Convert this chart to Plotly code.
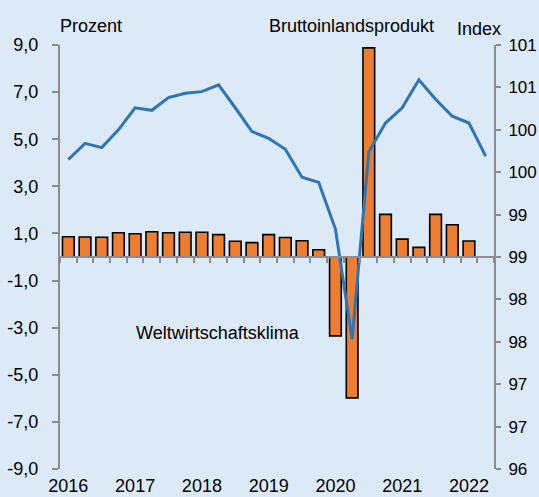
import plotly.graph_objects as go

# ---- data ----
quarters = [f"{y}Q{q}" for y in range(2016, 2023) for q in range(1, 5)][:26]
gdp = [0.86, 0.85, 0.84, 1.03, 0.99, 1.07, 1.03, 1.05, 1.05, 0.95, 0.67, 0.61,
       0.95, 0.83, 0.69, 0.31, -3.35, -5.98, 8.88, 1.81, 0.76, 0.41, 1.81, 1.37,
       0.68, None]
klima = [99.65, 99.84, 99.79, 100.00, 100.26, 100.23, 100.38, 100.43, 100.45,
         100.53, 100.26, 99.98, 99.90, 99.77, 99.44, 99.38, 98.83, 97.53, 99.74,
         100.08, 100.26, 100.59, 100.36, 100.16, 100.08, 99.69]
year_ticks = ["2016Q1", "2017Q1", "2018Q1", "2019Q1", "2020Q1", "2021Q1", "2022Q1"]
year_labels = ["2016", "2017", "2018", "2019", "2020", "2021", "2022"]
left_ticks = [-9, -7, -5, -3, -1, 1, 3, 5, 7, 9]
left_labels = [f"{v:.1f}".replace(".", ",") for v in left_ticks]
right_ticks = [96, 96.5, 97, 97.5, 98, 98.5, 99, 99.5, 100, 100.5, 101]
right_labels = ["96", "97", "97", "98", "98", "99", "99", "100", "100", "101", "101"]

BG = "#DCE9F7"
AX = "#8C8C8C"
FONT = dict(family="Liberation Sans, Arial, sans-serif", size=18, color="#000000")
RFONT = dict(family="Liberation Sans, Arial, sans-serif", size=17, color="#000000")

fig = go.Figure()
fig.add_trace(go.Bar(x=quarters, y=gdp, marker=dict(color="#ED7D31",
                     line=dict(color="#000000", width=1.6)), xaxis="x", yaxis="y"))
fig.add_trace(go.Scatter(x=quarters, y=klima, mode="lines",
                         line=dict(color="#2E75B6", width=3), xaxis="x", yaxis="y2"))
# helper trace so the zero-line category axis is drawn
fig.add_trace(go.Scatter(x=quarters, y=[None] * len(quarters), mode="lines",
                         xaxis="x2", yaxis="y", hoverinfo="skip"))

rng = [-0.5, len(quarters) - 0.5]
fig.update_layout(
    width=539, height=497,
    margin=dict(l=60, r=45, t=45, b=28),
    paper_bgcolor=BG, plot_bgcolor=BG,
    showlegend=False, bargap=0.3,
    font=FONT,
    xaxis=dict(type="category", categoryorder="array", categoryarray=quarters,
               range=rng, tickvals=year_ticks, ticktext=year_labels,
               showline=False, showgrid=False, zeroline=False, ticks="",
               ticklabelstandoff=4, tickfont=FONT, automargin=False),
    xaxis2=dict(type="category", categoryorder="array", categoryarray=quarters,
                range=rng, overlaying="x", anchor="free", position=0.5, side="bottom",
                showline=True, linecolor=AX, linewidth=2, showgrid=False,
                zeroline=False, ticks="outside", ticklen=5, tickwidth=2,
                tickcolor=AX, tickson="boundaries", showticklabels=False,
                automargin=False),
    yaxis=dict(range=[-9, 9], tickvals=left_ticks, ticktext=left_labels,
               showline=True, linecolor=AX, linewidth=2, ticks="outside",
               ticklen=6, tickwidth=2, tickcolor=AX, showgrid=False,
               zeroline=False, ticklabelstandoff=10, tickfont=FONT,
               automargin=False),
    yaxis2=dict(range=[96, 101], tickvals=right_ticks, ticktext=right_labels,
                overlaying="y", side="right", showline=True, linecolor=AX,
                linewidth=2, ticks="outside", ticklen=5, tickwidth=2,
                tickcolor=AX, showgrid=False, zeroline=False,
                ticklabelstandoff=4, tickfont=RFONT, automargin=False),
)

def ann(text, x, y):
    fig.add_annotation(text=text, x=x, y=y, xref="paper", yref="paper",
                       xanchor="left", yanchor="middle", showarrow=False, font=FONT)

ann("Prozent", -0.005, 1.045)
ann("Bruttoinlandsprodukt", 0.476, 1.045)
ann("Index", 0.909, 1.038)
ann("Weltwirtschaftsklima", 0.170, 0.321)

fig.write_html("out.html", config={"displayModeBar": False},
               post_script="document.body.style.margin='0';document.body.style.overflow='hidden';")
